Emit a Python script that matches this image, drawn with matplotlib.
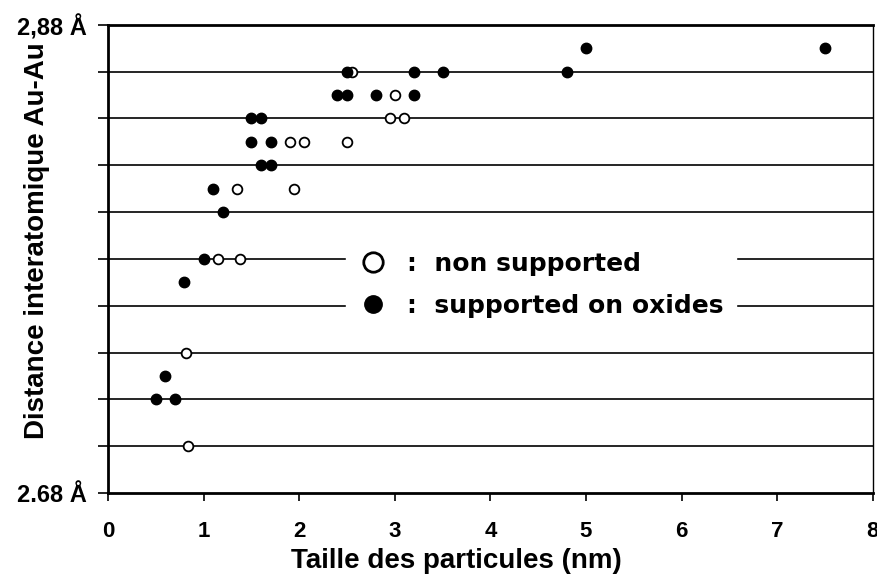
import matplotlib
matplotlib.use("Agg")
import matplotlib.pyplot as plt
from matplotlib.lines import Line2D
import numpy as np

# particle size (nm) / Au-Au distance (Å)
supported_x = [5.0, 7.5, 2.5, 3.2, 3.5, 4.8, 2.4, 2.5, 2.8, 3.2, 1.5, 1.6,
               1.5, 1.7, 1.6, 1.7, 1.1, 1.2, 1.0, 0.8, 0.6, 0.5, 0.7]
supported_y = [2.87, 2.87, 2.86, 2.86, 2.86, 2.86, 2.85, 2.85, 2.85, 2.85, 2.84, 2.84,
               2.83, 2.83, 2.82, 2.82, 2.81, 2.80, 2.78, 2.77, 2.73, 2.72, 2.72]

unsupported_x = [2.55, 3.0, 2.95, 3.1, 1.9, 2.05, 2.5, 1.35, 1.95, 1.15, 1.38, 0.82, 0.84]
unsupported_y = [2.86, 2.85, 2.84, 2.84, 2.83, 2.83, 2.83, 2.81, 2.81, 2.78, 2.78, 2.74, 2.70]

y_ticks = [2.68, 2.70, 2.72, 2.74, 2.76, 2.78, 2.80, 2.82, 2.84, 2.86, 2.88]
y_ticklabels = ["2.68 Å", "", "", "", "", "", "", "", "", "", "2,88 Å"]
x_ticks = [0, 1, 2, 3, 4, 5, 6, 7, 8]

plt.rcParams['font.family'] = ['Liberation Sans', 'DejaVu Sans']

fig = plt.figure(figsize=(8.78, 5.78), dpi=100)
ax = fig.add_axes([0.123, 0.147, 0.871, 0.810])

ax.set_xlim(0, 8)
ax.set_ylim(2.68, 2.88)

# horizontal grid lines at every 0.02
for y in y_ticks[1:-1]:
    ax.axhline(y, color='black', lw=1.2, zorder=1)

ax.plot(unsupported_x, unsupported_y, 'o', ms=7, mfc='white', mec='black',
        mew=1.3, ls='none', zorder=3)
ax.plot(supported_x, supported_y, 'o', ms=7.5, mfc='black', mec='black',
        ls='none', zorder=4)

ax.set_yticks(y_ticks)
ax.set_yticklabels(y_ticklabels, fontsize=17, fontweight='bold')
ax.set_xticks(x_ticks)
ax.set_xticklabels([str(t) for t in x_ticks], fontsize=16, fontweight='bold')
ax.tick_params(axis='y', direction='out', length=7, width=1.2, pad=8)
ax.tick_params(axis='x', direction='out', length=6, width=1.2, pad=14)

for side in ['left', 'bottom', 'top']:
    ax.spines[side].set_linewidth(2)
ax.spines['right'].set_linewidth(1)

ax.set_xlabel('Taille des particules (nm)', fontsize=20, fontweight='bold')
ax.xaxis.set_label_coords(0.456, -0.118)
ax.set_ylabel('Distance interatomique Au-Au', fontsize=20, fontweight='bold')
ax.yaxis.set_label_coords(-0.076, 0.54)

handles = [
    Line2D([], [], marker='o', ls='none', ms=14, mfc='white', mec='black', mew=2),
    Line2D([], [], marker='o', ls='none', ms=12.5, mfc='black', mec='black'),
]
leg = ax.legend(handles, [':  non supported', ':  supported on oxides'],
                loc='center', bbox_to_anchor=(0.566, 0.444),
                prop={'family': 'DejaVu Sans', 'weight': 'bold', 'size': 18},
                frameon=True, fancybox=False, borderpad=0.5,
                handletextpad=0.75, labelspacing=0.72, handlelength=1.2)
leg.get_frame().set_facecolor('white')
leg.get_frame().set_edgecolor('white')
leg.get_frame().set_alpha(1)

fig.savefig('out.png', dpi=100)
